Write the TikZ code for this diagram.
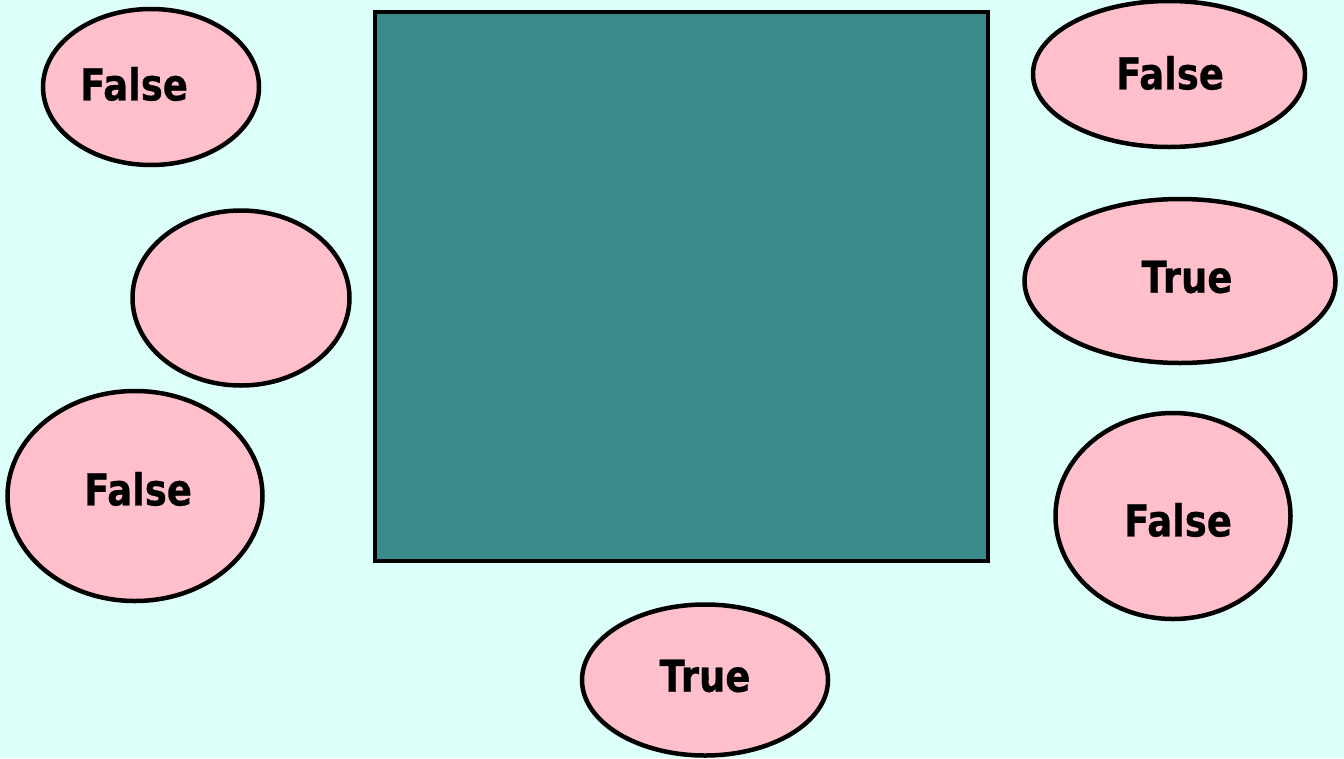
\documentclass[tikz,border=0pt]{standalone}
\usepackage{fontspec}
\setmainfont{DejaVu Sans}[FakeStretch=0.84, BoldFeatures={FakeBold=0.6}]
\usetikzlibrary{shapes.geometric}
\definecolor{bgc}{RGB}{220,255,250}
\definecolor{teal}{RGB}{58,140,140}
\definecolor{pinkc}{RGB}{255,192,203}
\tikzset{
  oval/.style={ellipse, draw=black, line width=4.5pt, fill=pinkc, inner sep=0pt},
  lbl/.style={font=\bfseries\fontsize{44}{50}\selectfont, text=black, inner sep=0pt},
}
\begin{document}
\begin{tikzpicture}[x=1pt,y=-1pt]
\fill[bgc] (0,0) rectangle (1344,758);
\useasboundingbox (0,0) rectangle (1344,758);
\node[draw=black, line width=4.5pt, fill=teal, minimum width=613pt, minimum height=549pt, inner sep=0pt] (board) at (681.5,286.5) {};
\node[oval, minimum width=216pt, minimum height=156pt] (e1) at (151,87) {};
\node[lbl] (t1) at (134,84) {False};
\node[oval, minimum width=217pt, minimum height=175pt] (e2) at (241,298) {};
\node[oval, minimum width=255pt, minimum height=210pt] (e3) at (135,496) {};
\node[lbl] (t3) at (138,489) {False};
\node[oval, minimum width=272pt, minimum height=146pt] (e4) at (1169,74) {};
\node[lbl] (t4) at (1170,73) {False};
\node[oval, minimum width=311pt, minimum height=164pt] (e5) at (1180,281) {};
\node[lbl] (t5) at (1187,277) {True};
\node[oval, minimum width=235pt, minimum height=206pt] (e6) at (1173,516) {};
\node[lbl] (t6) at (1178,520) {False};
\node[oval, minimum width=246pt, minimum height=151pt] (e7) at (705,680) {};
\node[lbl] (t7) at (705,676) {True};
\end{tikzpicture}
\end{document}
